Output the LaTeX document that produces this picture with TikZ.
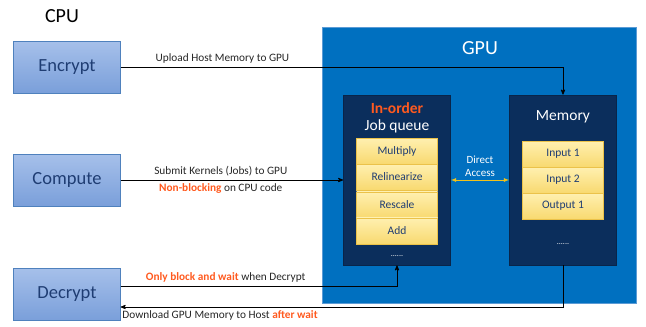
\documentclass[tikz,border=0pt]{standalone}
\usepackage{fontspec}
\setmainfont{Carlito}
\usetikzlibrary{arrows,positioning}

\definecolor{cputop}{HTML}{A6C0EA}
\definecolor{cpubot}{HTML}{7A9FDA}
\definecolor{cpuedge}{HTML}{4F81BD}
\definecolor{cputext}{HTML}{1F3D73}
\definecolor{gpublue}{HTML}{0070C0}
\definecolor{gpuedge}{HTML}{5B9BD5}
\definecolor{navy}{HTML}{0B2E5C}
\definecolor{jobtop}{HTML}{FFF0B0}
\definecolor{jobbot}{HTML}{F8D970}
\definecolor{jobedge}{HTML}{EBC24A}
\definecolor{hot}{HTML}{FF5A1F}
\definecolor{link}{HTML}{F2C21B}
\definecolor{note}{HTML}{262626}

\begin{document}
\begin{tikzpicture}[->,>=stealth',x=1pt,y=-1pt,node distance=26pt,thick]
  \tikzstyle{every node}=[font=\fontsize{11.3}{13}\selectfont]
  \tikzstyle{cpu}=[draw=cpuedge,thin,top color=cputop,bottom color=cpubot,text=cputext,
                   minimum width=107pt,minimum height=52pt,font=\fontsize{18.5}{20}\selectfont]
  \tikzstyle{unit}=[fill=navy,draw=navy!80!black,minimum width=107pt,minimum height=170pt]
  \tikzstyle{job}=[draw=jobedge,thin,top color=jobtop,bottom color=jobbot,text=cputext,
                   minimum width=81pt,minimum height=26pt,inner sep=0pt,font=\fontsize{11.5}{12}\selectfont]
  \tikzstyle{title}=[text=white,font=\fontsize{15.5}{17}\selectfont]
  \tikzstyle{dots}=[text=white,font=\fontsize{8}{9}\selectfont]
  \tikzstyle{label}=[text=note]

  \useasboundingbox (0,0) rectangle (646,327);

  \node[font=\fontsize{20}{22}\selectfont] (cpulbl) at (62,16) {CPU};
  \node[cpu] (enc) at (67,67)  {Encrypt};
  \node[cpu] (cmp) at (67,180) {Compute};
  \node[cpu] (dec) at (67,294) {Decrypt};

  \node[fill=gpublue,draw=gpuedge,thin,minimum width=314pt,minimum height=276pt] (gpu) at (479,165) {};
  \node[title,font=\fontsize{20}{22}\selectfont] (gpulbl) at (480,48) {GPU};

  \node[unit] (jobq) at (397,180) {};
  \node[title,text=hot,font=\bfseries\fontsize{15.5}{17}\selectfont] (order) at (397,108) {In-order};
  \node[title] (qlbl) at (397,126) {Job queue};
  \node[job] (mul) at (397,151) {Multiply};
  \node[job] (rel) [below of=mul] {Relinearize};
  \node[job] (res) [below=1.5pt of rel] {Rescale};
  \node[job] (add) [below of=res] {Add};
  \node[dots] (qdots) at (397,256) {......};

  \node[unit] (mem) at (563,180) {};
  \node[title] (mlbl) at (563,117) {Memory};
  \node[job] (in1) at (563,154) {Input 1};
  \node[job] (in2) [below of=in1] {Input 2};
  \node[job] (out1) [below of=in2] {Output 1};
  \node[dots] (mdots) at (563,244) {......};

  \draw (enc.east) -| node[label,pos=0.115,above] {Upload Host Memory to GPU} (mem.north);
  \draw (cmp.east) -- node[label,pos=0.45,above] {Submit Kernels (Jobs) to GPU}
                      node[label,pos=0.45,below] {\textcolor{hot}{\bfseries Non-blocking} on CPU code} (jobq.west);
  \draw ([yshift=8pt]dec.east) -| node[label,pos=0.19,above]
        {\textcolor{hot}{\bfseries Only block and wait} when Decrypt} (jobq.south);
  \draw (mem.south) |- node[label,pos=1,below right,xshift=-2pt]
        {Download GPU Memory to Host \textcolor{hot}{\bfseries after wait}} ([yshift=-13pt]dec.east);
  \draw[<->,link,>=latex] (jobq.east) -- node[above,text=white,align=center,font=\fontsize{11}{12.5}\selectfont]
        {Direct\\Access} (mem.west);
\end{tikzpicture}
\end{document}
